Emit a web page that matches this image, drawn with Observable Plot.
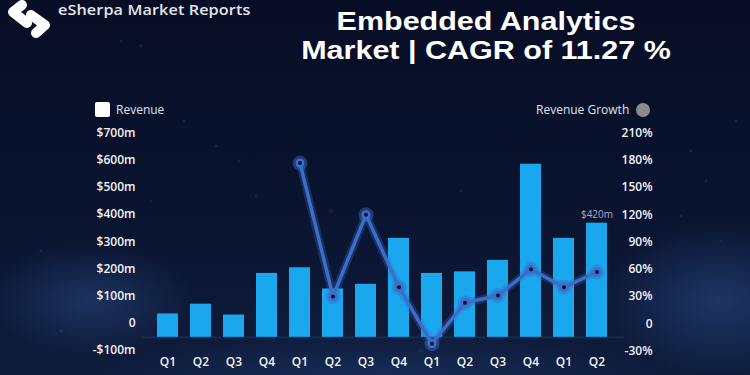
<!DOCTYPE html>
<html>
<head>
<meta charset="utf-8">
<script src="https://cdn.jsdelivr.net/npm/d3@7"></script>
<script src="https://cdn.jsdelivr.net/npm/@observablehq/plot@0.6"></script>
<style>
html, body { margin: 0; padding: 0; background: #080f26; }
#chart {
  position: relative; width: 750px; height: 375px; overflow: hidden;
  background:
    radial-gradient(ellipse 150px 80px at 90px 300px, rgba(70,120,200,0.28), rgba(0,0,0,0) 70%),
    radial-gradient(ellipse 170px 110px at 720px 300px, rgba(70,120,205,0.30), rgba(0,0,0,0) 70%),
    radial-gradient(ellipse 380px 70px at 380px 380px, rgba(45,85,150,0.30), rgba(0,0,0,0) 75%),
    linear-gradient(180deg, #070d24 0%, #0a1430 55%, #0e1c3c 100%);
  font-family: "Open Sans", sans-serif;
}
#chart svg.layer { position: absolute; left: 0; top: 0; }
.stars { position: absolute; left: 0; top: 0; width: 2px; height: 2px; border-radius: 50%;
  background: transparent;
  box-shadow:
    105px 130px 2px rgba(90,140,230,0.5), 183px 120px 2px rgba(90,140,230,0.45),
    215px 145px 2px rgba(90,140,230,0.5), 238px 160px 2px rgba(90,140,230,0.4),
    255px 195px 2px rgba(90,140,230,0.4), 150px 200px 2px rgba(90,140,230,0.35),
    330px 210px 3px rgba(110,150,220,0.45), 460px 190px 2px rgba(90,140,230,0.4),
    690px 150px 2px rgba(90,140,230,0.5), 705px 180px 2px rgba(90,140,230,0.45),
    680px 215px 2px rgba(90,140,230,0.4), 720px 240px 2px rgba(90,140,230,0.4),
    735px 120px 2px rgba(90,140,230,0.4), 40px 250px 2px rgba(90,140,230,0.4),
    60px 330px 2px rgba(90,140,230,0.4), 420px 350px 3px rgba(110,160,220,0.35),
    560px 360px 3px rgba(110,160,220,0.35), 390px 60px 2px rgba(90,140,230,0.35),
    140px 45px 2px rgba(90,140,230,0.45), 120px 40px 2px rgba(90,140,230,0.4); }
.logo { position: absolute; left: 0px; top: 0px; }
.logo-text { position: absolute; left: 58px; top: -1px; color: #e4e6ee; font-family: "Open Sans", sans-serif;
  font-weight: 600; font-size: 15px; letter-spacing: 0.1px; transform: scaleX(1.08); transform-origin: left center; }
.title { position: absolute; left: 486px; top: 7px; width: 420px; margin-left: -210px; text-align: center;
  color: #ffffff; font-family: "Liberation Sans", Arial, sans-serif; font-weight: bold; font-size: 25px;
  line-height: 29px; transform: scaleX(1.22); }
.leg { position: absolute; top: 101px; color: #dfe3ee; font-size: 12px; line-height: 18px;
  font-family: "Open Sans", sans-serif; font-weight: 500; }
.leg1 { left: 95px; }
.leg1 .sq { display: inline-block; width: 15px; height: 15px; background: #ffffff; border-radius: 2px;
  vertical-align: -3px; margin-right: 6px; }
.leg2 { left: 536px; }
.leg2 .dot { display: inline-block; width: 14px; height: 14px; background: #8c8c8e; border-radius: 50%;
  vertical-align: -3px; margin-left: 7px; }
</style>
</head>
<body>
<div id="chart">
  <div class="stars"></div>
  <svg class="logo" width="56" height="40" viewBox="0 0 56 40">
    <path d="M22 5 L13 12 L27 23" fill="none" stroke="#ffffff" stroke-width="10" stroke-linecap="round" stroke-linejoin="round"/>
    <path d="M31 15 L45 25 L36 33" fill="none" stroke="#ffffff" stroke-width="10" stroke-linecap="round" stroke-linejoin="round"/>
  </svg>
  <div class="logo-text">eSherpa Market Reports</div>
  <div class="title">Embedded Analytics<br>Market | CAGR of 11.27 %</div>
  <div class="leg leg1"><span class="sq"></span>Revenue</div>
  <div class="leg leg2">Revenue Growth<span class="dot"></span></div>
</div>
<script>
// ---- data ----
const quarters = ["Q1","Q2","Q3","Q4","Q1","Q2","Q3","Q4","Q1","Q2","Q3","Q4","Q1","Q2"];
const revenue  = [86, 122, 82, 235, 256, 178, 195, 364, 235, 241, 283, 637, 364, 420]; // $m
const growth   = [null, null, null, null, 177, 30, 120, 40, -22, 23, 31, 60, 40, 57]; // %
const revenueTicks = [-100, 0, 100, 200, 300, 400, 500, 600, 700];
const growthTicks  = [-30, 0, 30, 60, 90, 120, 150, 180, 210];
const noteIndex = 13;
const noteText  = "$420m";

// ---- tables ----
const rows = quarters.map((q, i) => ({i, quarter: q, revenue: revenue[i], growth: growth[i]}));
const growthRows = rows.filter(d => d.growth != null);
const noteRows = [{i: noteIndex, value: revenue[noteIndex], text: noteText}];

const common = {
  width: 750, height: 375, marginLeft: 141, marginRight: 126,
  style: {background: "transparent", overflow: "visible", fontFamily: "Open Sans, sans-serif"}
};
const xScale = {type: "band", domain: d3.range(quarters.length), padding: 0.36, axis: null};

const fmtRev = d => d === 0 ? "0" : d < 0 ? `-$${-d}m` : `$${d}m`;
const fmtGr = d => d === 0 ? "0" : `${d}%`;

const plotA = Plot.plot({
  ...common, marginTop: 133, marginBottom: 11,
  x: xScale,
  y: {domain: [-100, 750], axis: null},
  marks: [
    Plot.ruleY([0], {stroke: "#1a2a4c", strokeWidth: 2}),
    Plot.barY(rows, {x: "i", y: "revenue", fill: "#19a8ee"}),
    Plot.text(noteRows, {x: "i", y: "value", text: "text", dy: -8, fill: "#a7aec0", fontSize: 10}),
    Plot.axisY(revenueTicks, {anchor: "left", tickSize: 0, tickPadding: 6, dy: -14, label: null,
      tickFormat: fmtRev, fill: "#f2f3f8", fontSize: 12, fontWeight: 600}),
    Plot.axisX(d3.range(quarters.length), {anchor: "bottom", tickSize: 0, tickPadding: 3, dy: -10, label: null,
      tickFormat: i => quarters[i], fill: "#f2f3f8", fontSize: 12, fontWeight: 600})
  ]
});
plotA.classList.add("layer");

const plotB = Plot.plot({
  ...common, marginTop: 119, marginBottom: 11,
  x: xScale,
  y: {domain: [-45, 225], axis: null},
  marks: [
    Plot.line(growthRows, {x: "i", y: "growth", stroke: "#3a6bc6", strokeWidth: 8, strokeOpacity: 0.3}),
    Plot.line(growthRows, {x: "i", y: "growth", stroke: "#3b6dca", strokeWidth: 3.5}),
    Plot.dot(growthRows, {x: "i", y: "growth", r: 7.5, fill: "#3b6dca", fillOpacity: 0.45}),
    Plot.dot(growthRows, {x: "i", y: "growth", r: 4.5, fill: "#3b6dca"}),
    Plot.dot(growthRows, {x: "i", y: "growth", r: 2, fill: "#0a1430"}),
    Plot.axisY(growthTicks, {anchor: "right", tickSize: 0, tickPadding: 28, textAnchor: "end", label: null,
      tickFormat: fmtGr, fill: "#f2f3f8", fontSize: 12, fontWeight: 600})
  ]
});
plotB.classList.add("layer");

const chart = document.getElementById("chart");
chart.insertBefore(plotA, chart.querySelector(".logo"));
chart.insertBefore(plotB, chart.querySelector(".logo"));
</script>
</body>
</html>
